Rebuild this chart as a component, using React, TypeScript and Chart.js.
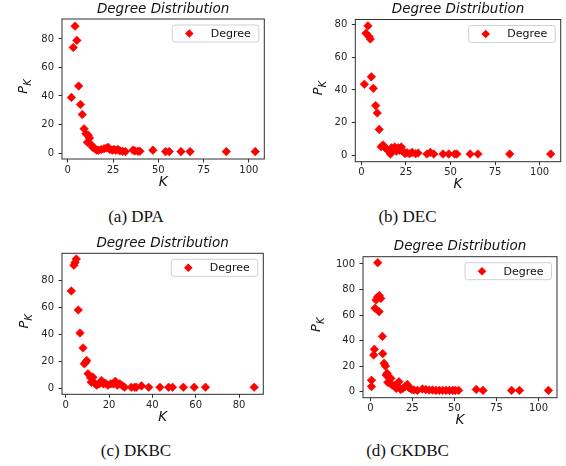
import React, { useEffect, useRef } from 'react';
import { Chart, registerables } from 'chart.js';

Chart.register(...registerables);

// ---------- data (degree K, P_K) ----------
const kDPA = [2, 3, 4, 5, 6, 7, 8, 9, 10, 10.8, 11.3, 12, 12.8, 13.7, 15, 16, 17, 18.5, 20, 21.4, 22.3, 23.2, 24.5, 25.5, 26.5, 27.7, 28.8, 30.3, 31.8, 36, 37, 38.7, 39.8, 47, 54, 56, 62.5, 67.5, 87.5, 103.5];
const pDPA = [39, 74, 89, 79, 47, 34, 27, 17, 13.5, 7.5, 12.5, 10.5, 6, 4, 3, 2, 2, 2.5, 3, 3.5, 4, 2.5, 2, 2.5, 2, 2.5, 1.5, 1.2, 1, 2, 1.5, 1.2, 1.2, 2, 1, 1, 1, 1, 1, 1];

const kDEC = [1.7, 2.6, 3.7, 4.3, 5, 5.6, 6.7, 8, 8.9, 10, 11.1, 12.2, 13.3, 14.4, 15.6, 16.3, 16.9, 17.8, 18.7, 19.6, 20.6, 21.5, 22.4, 23.3, 24.4, 25.6, 27, 28.5, 30.4, 31.8, 36.8, 38.7, 40.6, 45.8, 49, 52.3, 53.6, 61, 65.4, 83.2, 106.2];
const pDEC = [43.5, 74.5, 79, 72.5, 71, 48, 41, 30.5, 26, 16, 5.5, 6.5, 4.8, 3.8, 2.8, 1, 4.8, 3.8, 5.3, 2.8, 4.8, 3.2, 5.3, 2.8, 1.4, 1.8, 1.2, 2, 1.2, 1.6, 1, 2, 1, 1, 1, 1, 1, 1, 1, 1, 1];

const kDKBC = [2.6, 3.8, 4.3, 4.9, 5.8, 6.6, 8, 8.6, 9.3, 9.7, 10.3, 11.5, 11.8, 12.6, 13.4, 14.3, 15.5, 16.5, 17.4, 18.3, 19.5, 20.8, 22, 22.9, 23.8, 25, 26.3, 27.2, 30.3, 31.8, 32.6, 35, 38.3, 43.5, 47.5, 49.3, 54.3, 59.3, 64.5, 87];
const pDKBC = [72, 91, 93, 95.6, 58, 41, 30, 18.3, 19.5, 20.7, 11, 8, 4.7, 8.4, 4, 2.5, 3.5, 6, 3.5, 4, 2.5, 3.5, 3.5, 5.4, 2.5, 3.5, 2, 1, 1, 1, 1, 2, 1, 1, 1, 1, 1, 1, 1, 1];

const kCKDBC = [0.7, 0.7, 2, 2.4, 2.8, 3.4, 4.2, 4.4, 5.2, 5.4, 6.2, 7.2, 7.4, 8.2, 9, 9.4, 10, 10.4, 11.2, 11.8, 12.2, 13, 14.4, 15.4, 16.6, 17, 18, 19.4, 20.6, 22, 23, 24.6, 26, 28, 31, 33, 35, 37, 39, 41, 43, 45, 47, 49, 50.5, 52.5, 63, 67, 84, 88.7, 105.9];
const pCKDBC = [9, 4, 28.7, 33.2, 65.3, 71.8, 74, 101, 62.7, 75.2, 73, 43.3, 29.8, 22.2, 20.1, 13, 14.4, 7.3, 11, 6.5, 10.4, 5.2, 4.7, 2.6, 3.9, 7.8, 1.8, 2.6, 3.9, 5.7, 3.1, 1.8, 1.3, 1, 2.1, 1.6, 1.3, 1.3, 1, 1, 1, 1, 1, 1, 1, 1, 1.8, 1, 1, 1, 1];

const captions = ['(a) DPA', '(b) DEC', '(c) DKBC', '(d) CKDBC'];
const titleText = 'Degree Distribution';
const legendLabel = 'Degree';
const xAxisLabel = 'K';
const yAxisMain = 'P';
const yAxisSub = 'K';

// ---------- layout ----------
type PanelCfg = {
  k: number[]; p: number[]; caption: string;
  left: number; top: number;
  xMin: number; xMax: number; xStep: number;
  yMin: number; yMax: number; yStep: number;
  yAxisW: number; padR: number; padT: number; xAxisH: number;
  yLabelDx: number;
  capX: number; capY: number;
};

const panels: PanelCfg[] = [
  { k: kDPA, p: pDPA, caption: captions[0], left: 0, top: 0,
    xMin: -3.2, xMax: 108.5, xStep: 25, yMin: -4.2, yMax: 94, yStep: 20,
    yAxisW: 62, padR: 18.7, padT: 19, xAxisH: 41, yLabelDx: -35, capX: 136, capY: 217 },
  { k: kDEC, p: pDEC, caption: captions[1], left: 283, top: 0,
    xMin: -3.4, xMax: 111.8, xStep: 25, yMin: -3.65, yMax: 82.9, yStep: 20,
    yAxisW: 72.3, padR: 5.3, padT: 19.5, xAxisH: 38.3, yLabelDx: -33.3, capX: 407.5, capY: 217 },
  { k: kDKBC, p: pDKBC, caption: captions[2], left: 0, top: 235,
    xMin: -1.7, xMax: 91.2, xStep: 20, yMin: -4.2, yMax: 99.8, yStep: 20,
    yAxisW: 62, padR: 19.7, padT: 18.3, xAxisH: 40.7, yLabelDx: -34, capX: 136, capY: 451 },
  { k: kCKDBC, p: pCKDBC, caption: captions[3], left: 283, top: 235,
    xMin: -4.35, xMax: 111, xStep: 25, yMin: -4.7, yMax: 105.7, yStep: 20,
    yAxisW: 80, padR: 9, padT: 21.7, xAxisH: 37.3, yLabelDx: -42.7, capX: 407.5, capY: 451 },
];

const FONT = '"DejaVu Sans", sans-serif';
const AXIS_COLOR = '#2e2e2e';
const MARKER = '#ff0000';

const decorPlugin = {
  id: 'decor',
  afterDraw(chart: any, _args: any, opts: any) {
    const { ctx, chartArea: a } = chart;
    const cx = (a.left + a.right) / 2;
    const cy = (a.top + a.bottom) / 2;
    ctx.save();
    // frame
    ctx.strokeStyle = AXIS_COLOR;
    ctx.lineWidth = 1;
    ctx.strokeRect(a.left, a.top, a.right - a.left, a.bottom - a.top);
    // title
    ctx.fillStyle = '#111';
    ctx.textAlign = 'center';
    ctx.textBaseline = 'middle';
    ctx.font = `italic 13.5px ${FONT}`;
    ctx.fillText(titleText, cx, a.top - 10);
    // x label
    ctx.font = `italic 13.5px ${FONT}`;
    ctx.fillText(xAxisLabel, cx, a.bottom + 23);
    // legend
    const bw = 86.5, bh = 17;
    const bx = a.right - 5.5 - bw, by = a.top + 6;
    ctx.beginPath();
    if ((ctx as any).roundRect) (ctx as any).roundRect(bx, by, bw, bh, 2.5);
    else ctx.rect(bx, by, bw, bh);
    ctx.fillStyle = 'rgba(255,255,255,0.85)';
    ctx.fill();
    ctx.strokeStyle = '#d0d0d0';
    ctx.lineWidth = 1;
    ctx.stroke();
    const mx = bx + 17, my = by + bh / 2, r = 4.3;
    ctx.beginPath();
    ctx.moveTo(mx, my - r);
    ctx.lineTo(mx + r, my);
    ctx.lineTo(mx, my + r);
    ctx.lineTo(mx - r, my);
    ctx.closePath();
    ctx.fillStyle = MARKER;
    ctx.fill();
    ctx.fillStyle = '#111';
    ctx.textAlign = 'left';
    ctx.font = `11px ${FONT}`;
    ctx.fillText(legendLabel, bx + 38.5, my + 0.5);
    // y label P_K (rotated)
    ctx.translate(a.left + opts.yLabelDx, cy - 2.5);
    ctx.rotate(-Math.PI / 2);
    ctx.textBaseline = 'alphabetic';
    ctx.font = `italic 13px ${FONT}`;
    const wP = ctx.measureText(yAxisMain).width;
    ctx.font = `italic 10px ${FONT}`;
    const wK = ctx.measureText(yAxisSub).width;
    const x0 = -(wP + wK) / 2;
    ctx.font = `italic 13px ${FONT}`;
    ctx.fillText(yAxisMain, x0, 0);
    ctx.font = `italic 10px ${FONT}`;
    ctx.fillText(yAxisSub, x0 + wP, 4);
    ctx.restore();
  },
};

function PanelChart({ cfg }: { cfg: PanelCfg }) {
  const ref = useRef<HTMLCanvasElement>(null);
  useEffect(() => {
    if (!ref.current) return;
    const tickFont = { family: FONT, size: 10 };
    const chart = new Chart(ref.current, {
      type: 'scatter',
      data: {
        datasets: [{
          label: legendLabel,
          data: cfg.k.map((x, i) => ({ x, y: cfg.p[i] })),
          pointStyle: 'rectRot',
          pointRadius: 4.3,
          pointHoverRadius: 4.3,
          backgroundColor: MARKER,
          borderColor: MARKER,
          borderWidth: 0.6,
        }],
      },
      options: {
        animation: false,
        responsive: false,
        events: [],
        layout: { padding: { left: 0, right: cfg.padR, top: cfg.padT, bottom: 0 } },
        plugins: {
          legend: { display: false },
          tooltip: { enabled: false },
          decor: { yLabelDx: cfg.yLabelDx },
        } as any,
        scales: {
          x: {
            type: 'linear',
            min: cfg.xMin, max: cfg.xMax,
            afterFit: (s: any) => { s.height = cfg.xAxisH; },
            ticks: { stepSize: cfg.xStep, includeBounds: false, font: tickFont, color: '#262626', padding: 1.5, maxRotation: 0 },
            grid: { display: true, drawOnChartArea: false, drawTicks: true, tickLength: 3.5, tickColor: AXIS_COLOR, tickWidth: 1 },
            border: { display: false },
          },
          y: {
            type: 'linear',
            min: cfg.yMin, max: cfg.yMax,
            afterFit: (s: any) => { s.width = cfg.yAxisW; },
            ticks: { stepSize: cfg.yStep, includeBounds: false, font: tickFont, color: '#262626', padding: 4.5 },
            grid: { display: true, drawOnChartArea: false, drawTicks: true, tickLength: 3.5, tickColor: AXIS_COLOR, tickWidth: 1 },
            border: { display: false },
          },
        },
      },
      plugins: [decorPlugin],
    } as any);
    return () => chart.destroy();
  }, [cfg]);
  return (
    <canvas
      ref={ref}
      width={283}
      height={200}
      style={{ position: 'absolute', left: cfg.left, top: cfg.top, width: 283, height: 200 }}
    />
  );
}

export default function App() {
  return (
    <div style={{ position: 'absolute', left: 0, top: 0, width: 566, height: 466, background: '#fff', overflow: 'hidden' }}>
      {panels.map((cfg, i) => (
        <PanelChart key={i} cfg={cfg} />
      ))}
      {panels.map((cfg, i) => (
        <div
          key={'c' + i}
          style={{
            position: 'absolute', left: cfg.capX - 100, top: cfg.capY - 10, width: 200, height: 20,
            lineHeight: '20px', textAlign: 'center', fontFamily: '"Liberation Serif", "Times New Roman", serif',
            fontSize: 17, color: '#111', whiteSpace: 'nowrap',
          }}
        >
          {cfg.caption}
        </div>
      ))}
    </div>
  );
}
